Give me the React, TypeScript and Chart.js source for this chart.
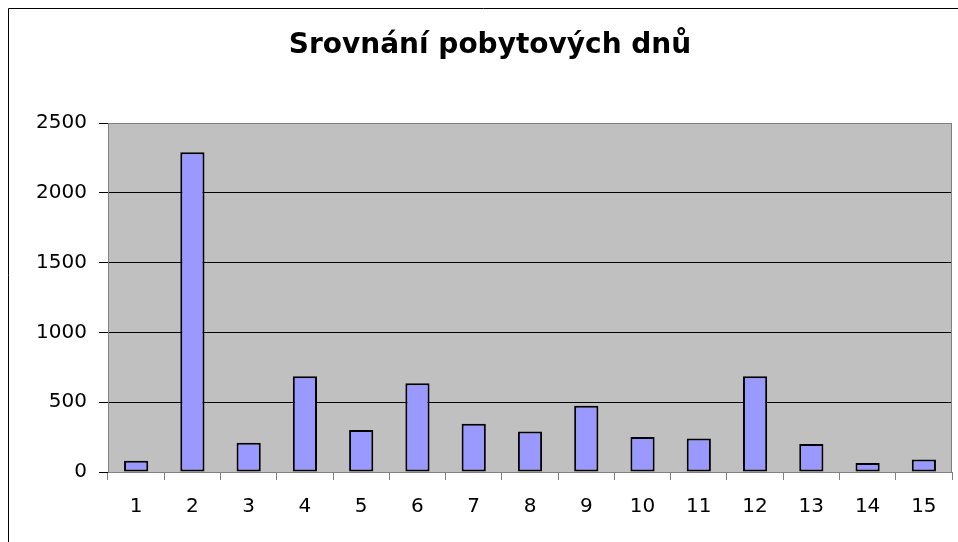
import { useEffect, useRef } from "react";
import { Chart, registerables } from "chart.js";

Chart.register(...registerables);

const chartTitle = "Srovnání pobytových dnů";
const categories = ["1", "2", "3", "4", "5", "6", "7", "8", "9", "10", "11", "12", "13", "14", "15"];
const values = [80, 2290, 210, 685, 300, 635, 345, 290, 475, 250, 240, 685, 200, 65, 90];
const yMin = 0;
const yMax = 2500;
const yStep = 500;

const FONT = "'DejaVu Sans', 'Liberation Sans', Arial, sans-serif";

const framePlugin = {
  id: "excelFrame",
  beforeDraw(chart: any) {
    const { ctx, chartArea, width, height } = chart;
    ctx.save();
    ctx.fillStyle = "#ffffff";
    ctx.fillRect(0, 0, width, height);
    // outer chart frame
    ctx.strokeStyle = "#000000";
    ctx.lineWidth = 1;
    ctx.beginPath();
    ctx.moveTo(8.5, height);
    ctx.lineTo(8.5, 8.5);
    ctx.lineTo(width, 8.5);
    ctx.stroke();
    // plot area background
    ctx.fillStyle = "#c0c0c0";
    ctx.fillRect(chartArea.left, chartArea.top, chartArea.right - chartArea.left, chartArea.bottom - chartArea.top);
    // title
    ctx.fillStyle = "#000000";
    ctx.font = `bold 28px ${FONT}`;
    ctx.textAlign = "center";
    ctx.textBaseline = "alphabetic";
    ctx.fillText(chartTitle, 490, 53);
    ctx.restore();
  },
  beforeDatasetsDraw(chart: any) {
    const { ctx, chartArea } = chart;
    ctx.save();
    ctx.strokeStyle = "#808080";
    ctx.lineWidth = 1;
    const l = Math.round(chartArea.left) + 0.5;
    const t = Math.round(chartArea.top) + 0.5;
    const r = Math.round(chartArea.right) - 0.5;
    const b = Math.round(chartArea.bottom) + 0.5;
    ctx.strokeRect(l, t, r - l, b - t);
    ctx.restore();
  },
};

export default function App() {
  const ref = useRef<HTMLCanvasElement | null>(null);

  useEffect(() => {
    if (!ref.current) return;
    const chart = new Chart(ref.current, {
      type: "bar",
      data: {
        labels: categories,
        datasets: [
          {
            data: values,
            backgroundColor: "#9999ff",
            borderColor: "#000000",
            borderWidth: 2,
            borderSkipped: false,
            barPercentage: 0.43,
            categoryPercentage: 1,
          },
        ],
      },
      options: {
        responsive: false,
        animation: false,
        layout: { padding: { top: 123, left: 0, right: 6, bottom: 0 } },
        plugins: {
          legend: { display: false },
          title: { display: false },
          tooltip: { enabled: false },
        },
        scales: {
          x: {
            type: "category",
            offset: true,
            grid: {
              offset: true,
              drawOnChartArea: false,
              drawTicks: true,
              tickLength: 8,
              color: "#808080",
              tickColor: "#808080",
            },
            border: { display: false },
            ticks: {
              color: "#000000",
              font: { family: FONT, size: 20 },
              padding: 15,
              maxRotation: 0,
              autoSkip: false,
            },
            afterFit: (s: any) => {
              s.height = 70;
            },
          },
          y: {
            min: yMin,
            max: yMax,
            grid: {
              color: (c: any) =>
                c.tick && (c.tick.value === yMin || c.tick.value === yMax) ? "rgba(0,0,0,0)" : "#000000",
              tickColor: "#000000",
              tickLength: 9,
              drawTicks: true,
            },
            border: { display: false },
            ticks: {
              stepSize: yStep,
              color: "#000000",
              font: { family: FONT, size: 20 },
              padding: 12,
              callback: (v: any) => String(v),
            },
            afterFit: (s: any) => {
              s.width = 108;
            },
          },
        },
      },
      plugins: [framePlugin],
    });
    return () => chart.destroy();
  }, []);

  return (
    <div style={{ position: "fixed", left: 0, top: 0, width: 958, height: 542, background: "#fff" }}>
      <canvas ref={ref} width={958} height={542} style={{ display: "block" }} />
    </div>
  );
}
